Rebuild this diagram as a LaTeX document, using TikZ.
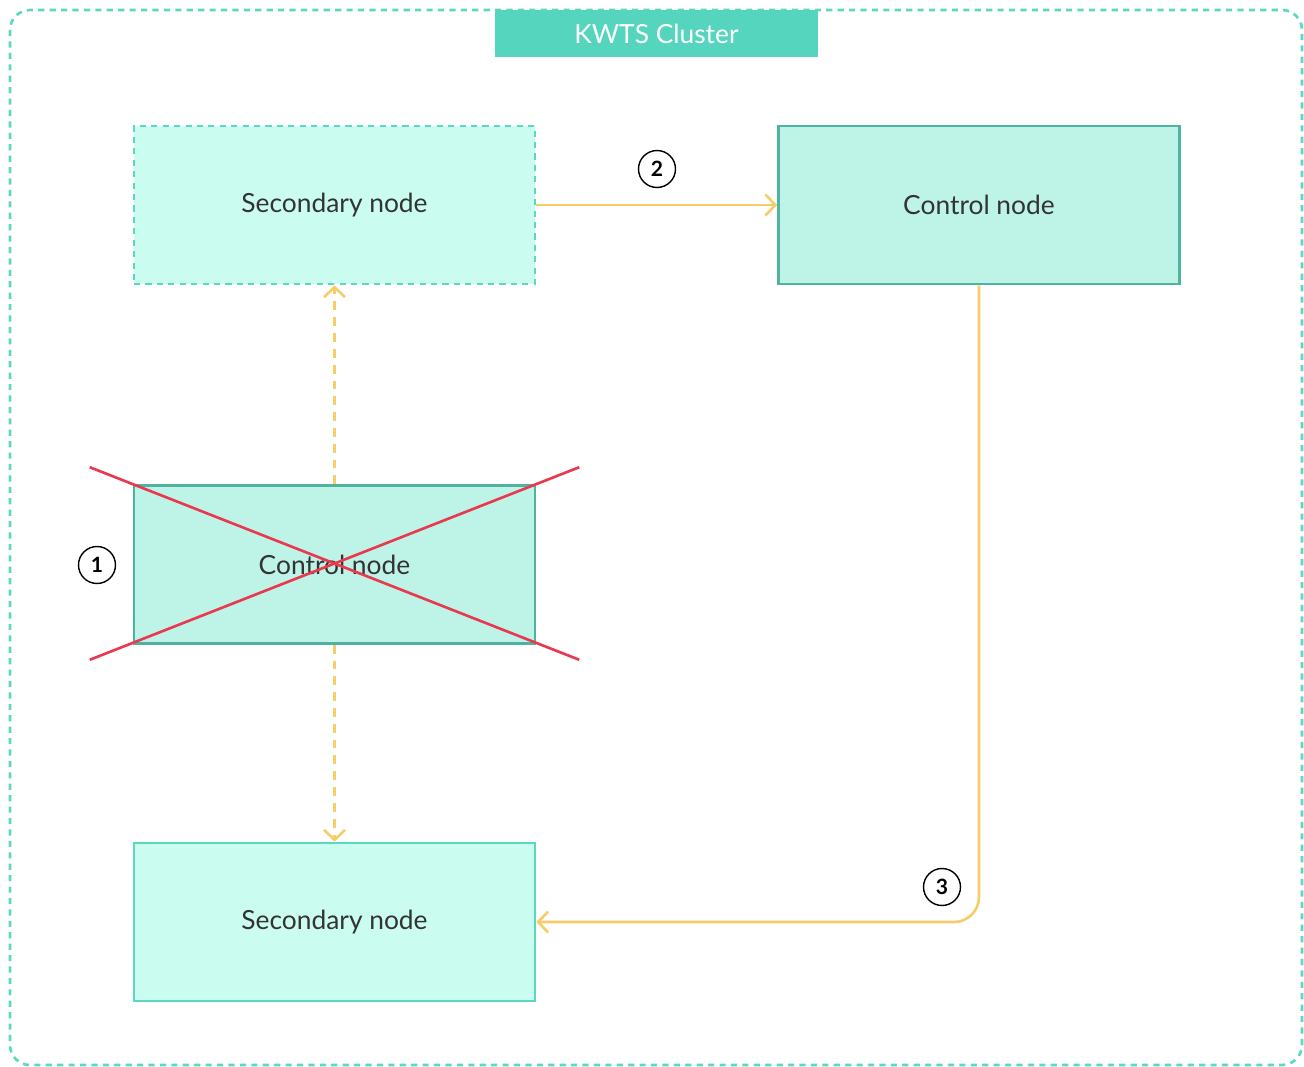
\documentclass[tikz,border=0pt]{standalone}
\usepackage{fontspec}
\setmainfont{Lato}
\usetikzlibrary{arrows.meta,calc}

\definecolor{clteal}{HTML}{5CD8C1}
\definecolor{tabfill}{HTML}{56D5BE}
\definecolor{secfill}{HTML}{CAFDF0}
\definecolor{ctrlfill}{HTML}{BEF4E8}
\definecolor{ctrlline}{HTML}{4FB39F}
\definecolor{flowyel}{HTML}{F5CD6B}
\definecolor{crossred}{HTML}{E8394E}

\tikzstyle{box}=[rectangle,minimum width=8.02cm,minimum height=3.16cm,inner sep=0pt,font=\fontsize{15}{18}\selectfont,text=black!80]
\tikzstyle{secondary}=[box,fill=secfill,draw=clteal,line width=1.5pt]
\tikzstyle{control}=[box,fill=ctrlfill,draw=ctrlline,line width=1.5pt]
\tikzstyle{flow}=[draw=flowyel,line width=1.5pt,-{Straight Barb[length=0.2cm,width=0.42cm,line width=1.5pt]}]
\tikzstyle{numcircle}=[draw,line width=0.8pt,circle,minimum size=0.74cm,inner sep=0pt,font=\fontsize{12}{14}\selectfont\bfseries]
\tikzstyle{cross}=[draw=crossred,line width=1.5pt]

\begin{document}
\begin{tikzpicture}[x=0.02cm, y=-0.02cm]
    \useasboundingbox (0,0) rectangle (1304,1067);
    % Cluster frame and its tab
    \draw[clteal, line width=1.5pt, dash pattern=on 3.5pt off 3pt, rounded corners=0.4cm]
        (10,10) rectangle (1302,1065);
    \node[fill=tabfill, minimum width=6.46cm, minimum height=0.94cm, inner sep=0pt,
          text=white, font=\fontsize{15}{18}\selectfont] (tab) at (656.5,33.5) {KWTS Cluster};
    % The four nodes
    \node[secondary, dashed, dash pattern=on 3.5pt off 3pt] (sectop) at (334.5,205) {Secondary node};
    \node[control] (ctrltop) at (979,205) {Control node};
    \node[control] (ctrlmid) at (334.5,564.5) {Control node};
    \node[secondary] (secbot) at (334.5,922) {Secondary node};
    % Failed control node is crossed out
    \path[cross] ($(ctrlmid.north west)+(-43,-17)$) -- ($(ctrlmid.south east)+(43,15)$);
    \path[cross] ($(ctrlmid.south west)+(-43,15)$) -- ($(ctrlmid.north east)+(43,-17)$);
    % Connectors
    \foreach \source/\dest in {ctrlmid.north/sectop.south, ctrlmid.south/secbot.north}
        \path[flow, dash pattern=on 5pt off 4pt] (\source) -- (\dest);
    \path[flow] (sectop.east) -- (ctrltop.west);
    \path[flow, rounded corners=0.5cm] (ctrltop.south) |- (secbot.east);
    % Step numbers
    \foreach \pos/\name/\num in {{(97,565)/one/1}, {(657,169)/two/2}, {(942,887)/three/3}}
        \node[numcircle] (\name) at \pos {\num};
\end{tikzpicture}
\end{document}
